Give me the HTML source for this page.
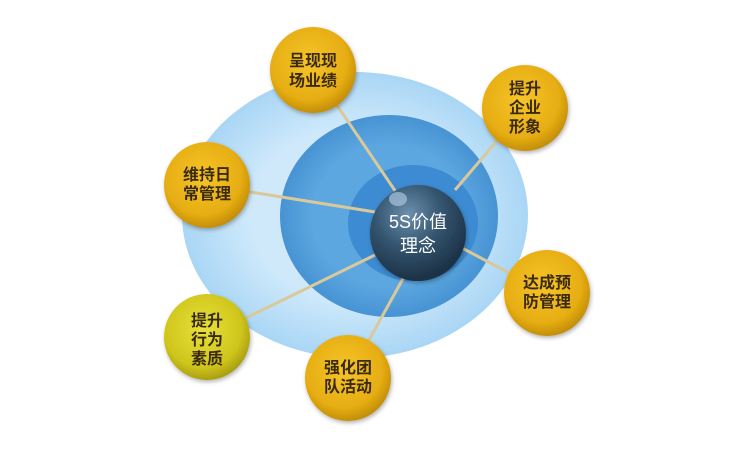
<!DOCTYPE html>
<html><head><meta charset="utf-8"><style>
body{margin:0;background:#fff;width:740px;height:449px;overflow:hidden}
svg text{font-family:"Liberation Sans","Noto Sans CJK SC",sans-serif;font-size:16px;font-weight:bold;fill:#3a2a10;text-anchor:middle}
</style></head><body>
<svg width="740" height="449" viewBox="0 0 740 449">
<defs>
<radialGradient id="outer" cx="50%" cy="50%" r="50%"><stop offset="0.6" stop-color="#cfe9fb"/><stop offset="1" stop-color="#a9d6f5"/></radialGradient>
<radialGradient id="mid" cx="50%" cy="50%" r="50%"><stop offset="0.7" stop-color="#5ca7e0"/><stop offset="1" stop-color="#4793d3"/></radialGradient>
<radialGradient id="sph" cx="40%" cy="30%" r="70%"><stop offset="0" stop-color="#6c8fae"/><stop offset="0.5" stop-color="#34556f"/><stop offset="1" stop-color="#1b3045"/></radialGradient>
<radialGradient id="gold" cx="45%" cy="40%" r="60%"><stop offset="0" stop-color="#f6c52a"/><stop offset="0.75" stop-color="#e6ad12"/><stop offset="1" stop-color="#c38e08"/></radialGradient>
<radialGradient id="green" cx="45%" cy="40%" r="60%"><stop offset="0" stop-color="#e8e23a"/><stop offset="0.75" stop-color="#cfc51c"/><stop offset="1" stop-color="#aa9f10"/></radialGradient>
<filter id="sh"><feDropShadow dx="1" dy="2" stdDeviation="2" flood-opacity="0.3"/></filter>
</defs>
<ellipse cx="355" cy="215" rx="173" ry="143" fill="url(#outer)"/>
<ellipse cx="389" cy="216" rx="109" ry="101" fill="url(#mid)"/>
<ellipse cx="413" cy="223" rx="65" ry="58" fill="#3d8bd2"/>
<g stroke="#d9c99a" stroke-width="3">
<line x1="313" y1="70" x2="398" y2="195"/>
<line x1="525" y1="108" x2="455" y2="190"/>
<line x1="207" y1="185" x2="375" y2="212"/>
<line x1="547" y1="293" x2="462" y2="248"/>
<line x1="207" y1="337" x2="375" y2="255"/>
<line x1="348" y1="378" x2="405" y2="275"/>
</g>
<circle cx="418" cy="233" r="48" fill="url(#sph)" filter="url(#sh)"/>
<ellipse cx="398" cy="199" rx="9" ry="7" fill="#a8c4dc" opacity="0.7"/>
<text x="418" y="228" style="fill:#fff;font-weight:normal;font-size:18px">5S价值</text>
<text x="418" y="252" style="fill:#fff;font-weight:normal;font-size:18px">理念</text>
<g filter="url(#sh)">
<circle cx="313" cy="70" r="43" fill="url(#gold)"/>
<circle cx="525" cy="108" r="43" fill="url(#gold)"/>
<circle cx="207" cy="185" r="43" fill="url(#gold)"/>
<circle cx="547" cy="293" r="43" fill="url(#gold)"/>
<circle cx="207" cy="337" r="43" fill="url(#green)"/>
<circle cx="348" cy="378" r="43" fill="url(#gold)"/>
</g>
<text x="313" y="66">呈现现</text><text x="313" y="86">场业绩</text>
<text x="525" y="94">提升</text><text x="525" y="113">企业</text><text x="525" y="132">形象</text>
<text x="207" y="180">维持日</text><text x="207" y="199">常管理</text>
<text x="547" y="288">达成预</text><text x="547" y="307">防管理</text>
<text x="207" y="326">提升</text><text x="207" y="345">行为</text><text x="207" y="364">素质</text>
<text x="348" y="373">强化团</text><text x="348" y="392">队活动</text>
</svg>
</body></html>
